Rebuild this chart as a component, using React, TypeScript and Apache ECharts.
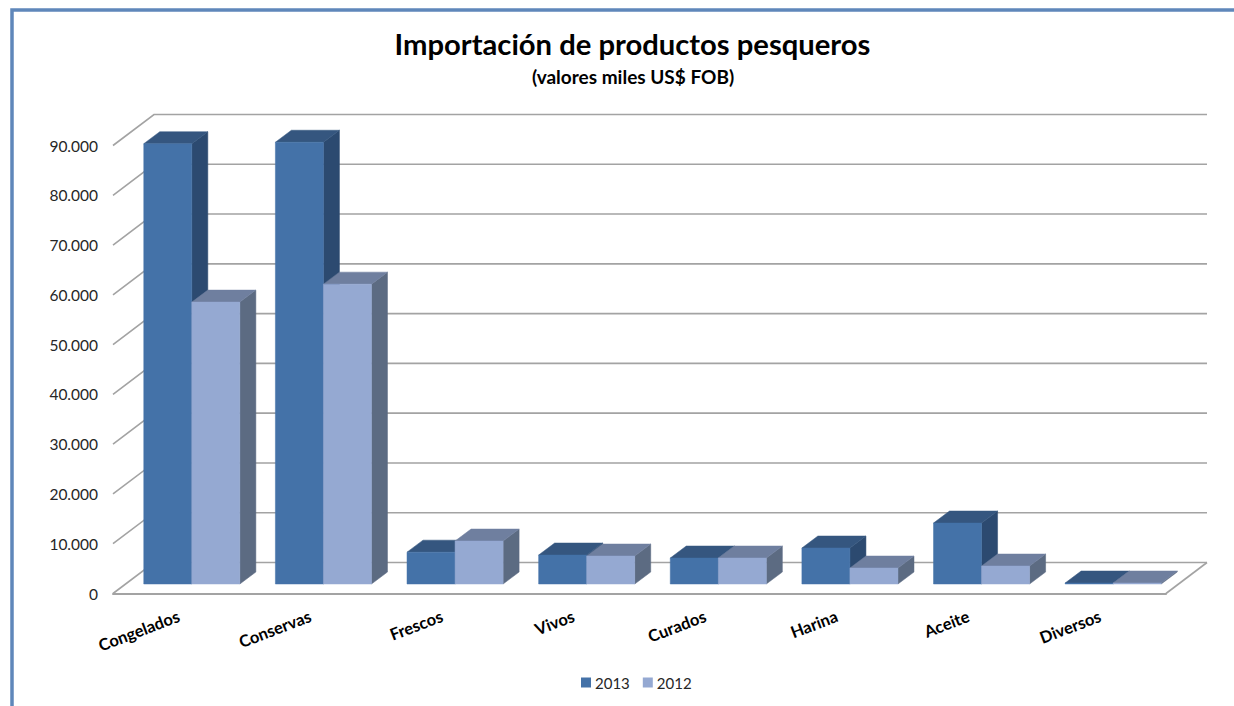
import React, { useEffect, useRef } from "react";
import * as echarts from "echarts";

const categories = ["Congelados", "Conservas", "Frescos", "Vivos", "Curados", "Harina", "Aceite", "Diversos"];
const values2013 = [88450, 88750, 6400, 5820, 5220, 7230, 12250, 200];
const values2012 = [56630, 60240, 8630, 5620, 5220, 3210, 3610, 200];
const axisTicks = [0, 10000, 20000, 30000, 40000, 50000, 60000, 70000, 80000, 90000];

const FONT = "Lato";
const GRID = "#A3A3A3";
const WALL_DX = 41;
const WALL_DY = 31;
const BAR_SHIFT_X = 13;
const BAR_SHIFT_Y = 9.5;
const BAR_DX = 16;
const BAR_DY = 12;
const BAR_FRACTION = 0.365;

const fmt = (v: number) => String(v).replace(/\B(?=(\d{3})+(?!\d))/g, ".");

function barRenderer(side: -1 | 1, topColor: string, sideColor: string) {
  return (_params: any, api: any) => {
    const i = api.value(0);
    const v = api.value(1);
    const base = api.coord([i, 0]);
    const top = api.coord([i, v]);
    const w = api.size([1, 0])[0] * BAR_FRACTION;
    const cx = base[0] + BAR_SHIFT_X;
    const x0 = side < 0 ? cx - w : cx;
    const x1 = x0 + w;
    const y0 = base[1] - BAR_SHIFT_Y;
    const y1 = top[1] - BAR_SHIFT_Y;
    const poly = (points: number[][], fill: string) => ({
      type: "polygon",
      shape: { points },
      style: { fill, stroke: fill, lineWidth: 0.5 },
    });
    return {
      type: "group",
      children: [
        poly([[x1, y0], [x1 + BAR_DX, y0 - BAR_DY], [x1 + BAR_DX, y1 - BAR_DY], [x1, y1]], sideColor),
        poly([[x0, y1], [x1, y1], [x1 + BAR_DX, y1 - BAR_DY], [x0 + BAR_DX, y1 - BAR_DY]], topColor),
        poly([[x0, y0], [x1, y0], [x1, y1], [x0, y1]], api.visual("color")),
      ],
    };
  };
}

function wallRenderer(params: any, api: any) {
  const v = api.value(1);
  const y = api.coord([0, v])[1];
  const { x, width } = params.coordSys;
  const line = (points: number[][]) => ({
    type: "polyline",
    shape: { points },
    style: { stroke: GRID, lineWidth: 1.6, fill: "none" },
  });
  const children = [line([[x, y], [x + WALL_DX, y - WALL_DY], [x + width + WALL_DX, y - WALL_DY]])];
  if (v === 0) children.push(line([[x + width, y], [x + width + WALL_DX, y - WALL_DY]]));
  return { type: "group", children };
}

export default function App() {
  const ref = useRef<HTMLDivElement>(null);
  useEffect(() => {
    document.body.style.margin = "0";
    const chart = echarts.init(ref.current!, undefined, { renderer: "svg" });
    chart.setOption({
      animation: false,
      backgroundColor: "#FFFFFF",
      title: [
        {
          text: "Importación de productos pesqueros",
          left: 627.5,
          top: 24,
          textAlign: "center",
          textStyle: { fontFamily: FONT, fontSize: 29.2, fontWeight: "bold", color: "#000000" },
        },
        {
          text: "(valores miles US$ FOB)",
          left: 628,
          top: 62,
          textAlign: "center",
          textStyle: { fontFamily: FONT, fontSize: 19, fontWeight: "bold", color: "#000000" },
        },
      ],
      legend: {
        data: ["2013", "2012"],
        left: 576,
        top: 670,
        icon: "rect",
        itemWidth: 10,
        itemHeight: 10,
        itemGap: 13,
        textStyle: { fontFamily: FONT, fontSize: 15, color: "#262626", padding: [0, 0, 0, -1] },
      },
      grid: { left: 113, top: 145.5, width: 1053, height: 448, containLabel: false },
      xAxis: {
        type: "category",
        data: categories,
        axisTick: { show: false },
        axisLine: { lineStyle: { color: GRID, width: 2 } },
        axisLabel: {
          interval: 0,
          rotate: 21,
          margin: 22,
          fontFamily: FONT,
          fontSize: 16.5,
          fontWeight: "bold",
          color: "#000000",
        },
      },
      yAxis: {
        type: "value",
        min: 0,
        max: 90000,
        interval: 10000,
        axisLine: { show: false },
        axisTick: { show: false },
        splitLine: { show: false },
        axisLabel: {
          margin: 15,
          fontFamily: FONT,
          fontSize: 15.5,
          color: "#262626",
          formatter: (v: number) => fmt(v),
        },
      },
      graphic: [
        {
          type: "rect",
          silent: true,
          shape: { x: 12, y: 10, width: 1400, height: 900 },
          style: { fill: "none", stroke: "#5F87BA", lineWidth: 3.5 },
        },
      ],
      series: [
        {
          name: "grid",
          type: "custom",
          z: 1,
          silent: true,
          renderItem: wallRenderer,
          encode: { x: 0, y: 1 },
          data: axisTicks.map((t) => [0, t]),
        },
        {
          name: "2013",
          type: "custom",
          z: 2,
          itemStyle: { color: "#4472A8" },
          renderItem: barRenderer(-1, "#35567F", "#2C4A70"),
          encode: { x: 0, y: 1 },
          data: values2013.map((v, i) => [i, v]),
        },
        {
          name: "2012",
          type: "custom",
          z: 3,
          itemStyle: { color: "#95A9D2" },
          renderItem: barRenderer(1, "#6F7F9F", "#5C6B82"),
          encode: { x: 0, y: 1 },
          data: values2012.map((v, i) => [i, v]),
        },
      ],
    });
    return () => chart.dispose();
  }, []);
  return <div ref={ref} style={{ position: "fixed", left: 0, top: 0, width: 1234, height: 706 }} />;
}
